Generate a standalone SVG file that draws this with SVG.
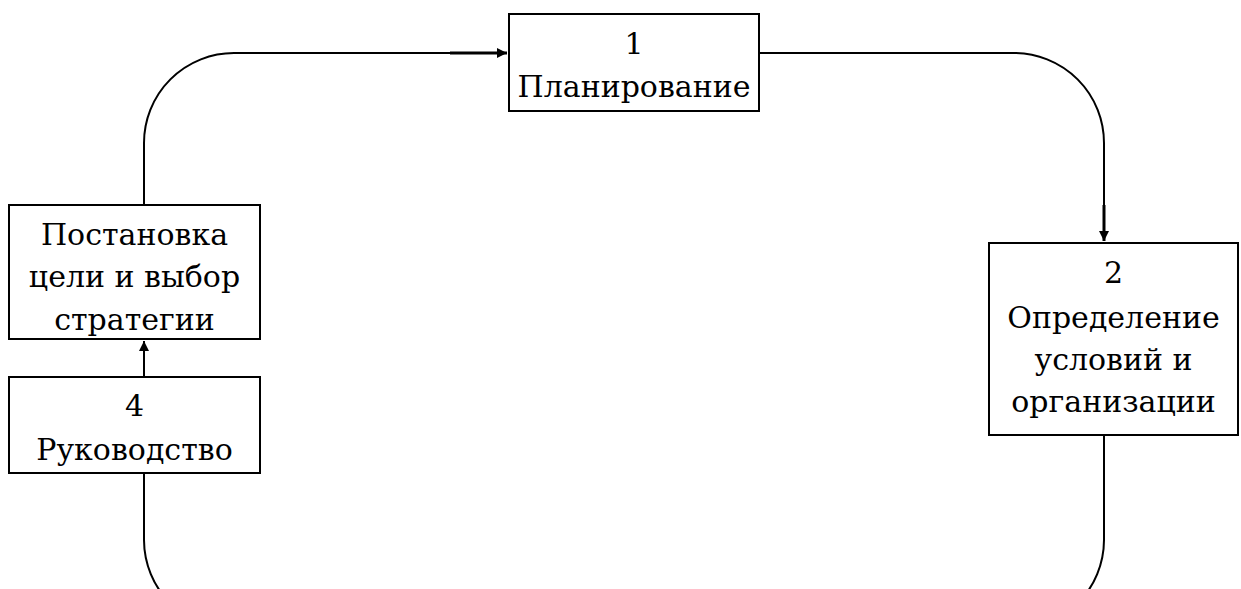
<svg xmlns="http://www.w3.org/2000/svg" width="1241" height="589" viewBox="0 0 1241 589">
<style>
.box{fill:#fff;stroke:#000;stroke-width:2}
.t{font-family:"DejaVu Serif","Liberation Serif",serif;font-size:30px;fill:#000;text-anchor:middle}
.c{fill:none;stroke:#000;stroke-width:2}
.ct{fill:none;stroke:#000;stroke-width:3}
</style>
<defs>
<marker id="arr" viewBox="0 0 10 10" refX="10" refY="5" markerWidth="10" markerHeight="10" markerUnits="userSpaceOnUse" orient="auto">
<path d="M0,0 L10,5 L0,10 Z" fill="#000"/>
</marker>
</defs>
<g id="connectors">
<path class="c" d="M144,205 L144,143 A90,90 0 0 1 234,53 L450,53"/>
<path class="ct" d="M450,53 L507,53" marker-end="url(#arr)"/>
<path class="c" d="M759,53 L1014,53 A90,90 0 0 1 1104,143 L1104,205"/>
<path class="ct" d="M1104,205 L1104,241" marker-end="url(#arr)"/>
<path class="c" d="M144,377 L144,341" marker-end="url(#arr)"/>
<path class="c" d="M144,473 L144,540 A90,90 0 0 0 170,603"/>
<path class="c" d="M1104,435 L1104,540 A90,90 0 0 1 1078,603"/>
</g>
<g id="node1">
<rect class="box" x="509" y="14" width="250" height="97"/>
<text class="t" x="634" y="54">1</text>
<text class="t" x="634" y="97">Планирование</text>
</g>
<g id="node2">
<rect class="box" x="989" y="243" width="249" height="192"/>
<text class="t" x="1113.5" y="283">2</text>
<text class="t" x="1113.5" y="328">Определение</text>
<text class="t" x="1113.5" y="370">условий и</text>
<text class="t" x="1113.5" y="412">организации</text>
</g>
<g id="node3">
<rect class="box" x="9" y="205" width="251" height="134"/>
<text class="t" x="134.5" y="245">Постановка</text>
<text class="t" x="134.5" y="287">цели и выбор</text>
<text class="t" x="134.5" y="330">стратегии</text>
</g>
<g id="node4">
<rect class="box" x="9" y="377" width="251" height="96"/>
<text class="t" x="134.5" y="416">4</text>
<text class="t" x="134.5" y="460">Руководство</text>
</g>
</svg>
